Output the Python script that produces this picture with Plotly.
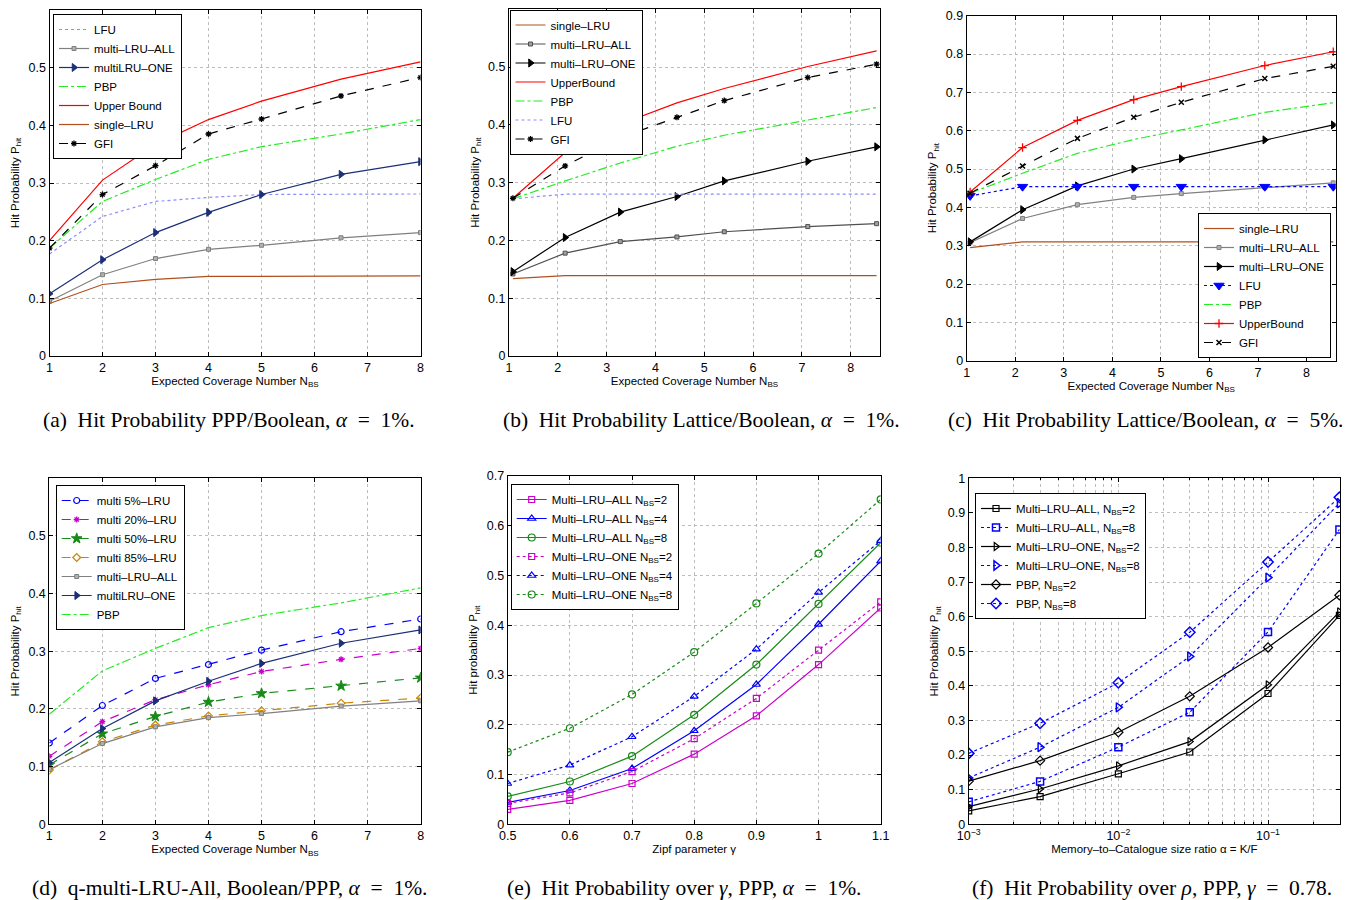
import plotly.graph_objects as go

W, H = 1353, 900

# ---------------- data ----------------
# (a) PPP/Boolean alpha=1%
xa = [1, 2, 3, 4, 5, 6.5, 8]
a_lfu = [0.177, 0.242, 0.268, 0.275, 0.280, 0.280, 0.281]
a_all = [0.095, 0.141, 0.169, 0.185, 0.192, 0.205, 0.214]
a_one = [0.108, 0.167, 0.214, 0.249, 0.280, 0.315, 0.337]
a_pbp = [0.187, 0.268, 0.306, 0.341, 0.363, 0.385, 0.410]
a_ub = [0.200, 0.305, 0.367, 0.410, 0.442, 0.480, 0.510]
a_single = [0.091, 0.124, 0.133, 0.138, 0.138, 0.139, 0.139]
a_gfi = [0.187, 0.280, 0.330, 0.385, 0.411, 0.451, 0.483]

# (b) Lattice/Boolean alpha=1%
xb = [1.08, 2.15, 3.28, 4.44, 5.41, 7.12, 8.53]
b_single = [0.134, 0.139, 0.139, 0.139, 0.139, 0.139, 0.139]
b_all = [0.142, 0.178, 0.198, 0.206, 0.215, 0.224, 0.229]
b_one = [0.146, 0.205, 0.249, 0.276, 0.303, 0.337, 0.362]
b_ub = [0.273, 0.352, 0.401, 0.438, 0.463, 0.501, 0.528]
b_pbp = [0.272, 0.303, 0.334, 0.363, 0.382, 0.409, 0.430]
b_lfu = [0.272, 0.280, 0.280, 0.280, 0.280, 0.280, 0.280]
b_gfi = [0.273, 0.329, 0.378, 0.413, 0.442, 0.482, 0.505]

# (c) Lattice/Boolean alpha=5%
xc = [1.07, 2.15, 3.28, 4.44, 5.42, 7.14, 8.55]
c_single = [0.295, 0.310, 0.310, 0.310, 0.310, 0.310, 0.310]
c_all = [0.308, 0.371, 0.407, 0.426, 0.436, 0.452, 0.464]
c_one = [0.310, 0.394, 0.456, 0.500, 0.527, 0.576, 0.615]
c_lfu = [0.430, 0.454, 0.454, 0.454, 0.454, 0.454, 0.454]
c_pbp = [0.437, 0.489, 0.541, 0.577, 0.602, 0.648, 0.673]
c_ub = [0.440, 0.556, 0.627, 0.681, 0.715, 0.770, 0.806]
c_gfi = [0.437, 0.508, 0.580, 0.635, 0.674, 0.736, 0.768]

# (d) q-multi-LRU-All
xd_ = [1, 2, 3, 4, 5, 6.5, 8]
d_q5 = [0.141, 0.206, 0.253, 0.277, 0.302, 0.334, 0.356]
d_q20 = [0.118, 0.178, 0.216, 0.242, 0.265, 0.286, 0.305]
d_q50 = [0.103, 0.157, 0.187, 0.212, 0.227, 0.240, 0.254]
d_q85 = [0.094, 0.143, 0.172, 0.188, 0.197, 0.210, 0.219]
d_all = [0.095, 0.140, 0.169, 0.185, 0.192, 0.205, 0.214]
d_one = [0.107, 0.166, 0.214, 0.248, 0.279, 0.314, 0.337]
d_pbp = [0.191, 0.266, 0.305, 0.341, 0.362, 0.384, 0.410]

# (e) over gamma
xe = [0.5, 0.6, 0.7, 0.8, 0.9, 1.0, 1.1]
e_all2 = [0.030, 0.048, 0.082, 0.141, 0.218, 0.321, 0.435]
e_all4 = [0.044, 0.068, 0.112, 0.188, 0.281, 0.402, 0.529]
e_all8 = [0.056, 0.086, 0.137, 0.220, 0.321, 0.443, 0.566]
e_one2 = [0.042, 0.063, 0.106, 0.172, 0.253, 0.350, 0.447]
e_one4 = [0.082, 0.119, 0.176, 0.257, 0.352, 0.466, 0.570]
e_one8 = [0.145, 0.193, 0.261, 0.346, 0.444, 0.544, 0.653]

# (f) over memory ratio
xf = [0.001, 0.003, 0.01, 0.03, 0.1, 0.3]
f_all2 = [0.039, 0.080, 0.146, 0.209, 0.378, 0.604]
f_all8 = [0.065, 0.124, 0.223, 0.324, 0.556, 0.852]
f_one2 = [0.051, 0.102, 0.169, 0.239, 0.403, 0.614]
f_one8 = [0.134, 0.223, 0.338, 0.485, 0.713, 0.928]
f_pbp2 = [0.125, 0.184, 0.266, 0.370, 0.511, 0.662]
f_pbp8 = [0.205, 0.292, 0.409, 0.555, 0.758, 0.945]

SP = "\u2002"
captions = [
    "(a)" + SP + "Hit Probability PPP/Boolean, <i>α</i>" + SP + "=" + SP + "1%.",
    "(b)" + SP + "Hit Probability Lattice/Boolean, <i>α</i>" + SP + "=" + SP + "1%.",
    "(c)" + SP + "Hit Probability Lattice/Boolean, <i>α</i>" + SP + "=" + SP + "5%.",
    "(d)" + SP + "q-multi-LRU-All, Boolean/PPP, <i>α</i>" + SP + "=" + SP + "1%.",
    "(e)" + SP + "Hit Probability over <i>γ</i>, PPP, <i>α</i>" + SP + "=" + SP + "1%.",
    "(f)" + SP + "Hit Probability over <i>ρ</i>, PPP, <i>γ</i>" + SP + "=" + SP + "0.78.",
]

# ---------------- styles ----------------
RED = "#ff0000"
BROWN = "#b0501e"
GRAY = "#808080"
DGRAY = "#505050"
NAVY = "#1c2f78"
LGREEN = "#22ee22"
LBLUE = "#8c8cff"
BLUE = "#0000ff"
MAG = "#cc00cc"
DGREEN = "#178a17"
ORANGE = "#cc8400"

FONT = "Liberation Sans, Arial, sans-serif"
SERIF = "Liberation Serif, Times New Roman, serif"

fig = go.Figure()


def px_x(a, b):
    return [a / W, b / W]


def px_y(top, bottom):
    return [1 - bottom / H, 1 - top / H]


def add(x, y, name, axis, legend, color, dash="solid", symbol=None, msize=5,
        mfill=None, mline=1, width=1.2):
    mode = "lines+markers" if symbol else "lines"
    marker = {}
    if symbol:
        marker = dict(symbol=symbol, size=msize, color=mfill if mfill else color,
                      line=dict(color=color, width=mline))
    fig.add_trace(go.Scatter(
        x=x, y=y, name=name, mode=mode,
        xaxis="x" + axis, yaxis="y" + axis, legend=legend,
        line=dict(color=color, dash=dash, width=width),
        marker=marker,
    ))


# (a)
add(xa, a_lfu, "LFU", "", "legend", LBLUE, "dot")
add(xa, a_all, "multi–LRU–ALL", "", "legend", GRAY, "solid", "square", 4, "#b0b0b0")
add(xa, a_one, "multiLRU–ONE", "", "legend", NAVY, "solid", "triangle-right", 7)
add(xa, a_pbp, "PBP", "", "legend", LGREEN, "dashdot")
add(xa, a_ub, "Upper Bound", "", "legend", RED)
add(xa, a_single, "single–LRU", "", "legend", BROWN)
add(xa, a_gfi, "GFI", "", "legend", "black", "dash", "asterisk-open", 5, None, 1.3)

# (b)
add(xb, b_single, "single–LRU", "2", "legend2", BROWN)
add(xb, b_all, "multi–LRU–ALL", "2", "legend2", DGRAY, "solid", "square", 4, "#a0a0a0")
add(xb, b_one, "multi–LRU–ONE", "2", "legend2", "black", "solid", "triangle-right", 7)
add(xb, b_ub, "UpperBound", "2", "legend2", RED)
add(xb, b_pbp, "PBP", "2", "legend2", LGREEN, "dashdot")
add(xb, b_lfu, "LFU", "2", "legend2", LBLUE, "dot")
add(xb, b_gfi, "GFI", "2", "legend2", "black", "dash", "asterisk-open", 5, None, 1.3)

# (c)
add(xc, c_single, "single–LRU", "3", "legend3", BROWN)
add(xc, c_all, "multi–LRU–ALL", "3", "legend3", GRAY, "solid", "square", 4, "#b0b0b0")
add(xc, c_one, "multi–LRU–ONE", "3", "legend3", "black", "solid", "triangle-right", 7)
add(xc, c_lfu, "LFU", "3", "legend3", BLUE, "dot", "triangle-down", 9)
add(xc, c_pbp, "PBP", "3", "legend3", LGREEN, "dashdot")
add(xc, c_ub, "UpperBound", "3", "legend3", RED, "solid", "cross-thin-open", 6, None, 1.3)
add(xc, c_gfi, "GFI", "3", "legend3", "black", "dash", "x-thin-open", 5, None, 1.5)

# (d)
add(xd_, d_q5, "multi 5%–LRU", "4", "legend4", BLUE, "dash", "circle-open", 6, None, 1.2)
add(xd_, d_q20, "multi 20%–LRU", "4", "legend4", MAG, "dash", "asterisk-open", 5, None, 1.3)
add(xd_, d_q50, "multi 50%–LRU", "4", "legend4", DGREEN, "dash", "star", 8)
add(xd_, d_q85, "multi 85%–LRU", "4", "legend4", ORANGE, "dash", "diamond-open", 6, None, 1.2)
add(xd_, d_all, "multi–LRU–ALL", "4", "legend4", GRAY, "solid", "square", 4, "#b0b0b0")
add(xd_, d_one, "multiLRU–ONE", "4", "legend4", NAVY, "solid", "triangle-right", 7)
add(xd_, d_pbp, "PBP", "4", "legend4", LGREEN, "dashdot")

# (e)
add(xe, e_all2, "Multi–LRU–ALL N<sub>BS</sub>=2", "5", "legend5", MAG, "solid", "square-open", 6, None, 1.2)
add(xe, e_all4, "Multi–LRU–ALL N<sub>BS</sub>=4", "5", "legend5", BLUE, "solid", "triangle-up-open", 7, None, 1.2)
add(xe, e_all8, "Multi–LRU–ALL N<sub>BS</sub>=8", "5", "legend5", DGREEN, "solid", "circle-open", 7, None, 1.2)
add(xe, e_one2, "Multi–LRU–ONE N<sub>BS</sub>=2", "5", "legend5", MAG, "dot", "square-open", 6, None, 1.2)
add(xe, e_one4, "Multi–LRU–ONE N<sub>BS</sub>=4", "5", "legend5", BLUE, "dot", "triangle-up-open", 7, None, 1.2)
add(xe, e_one8, "Multi–LRU–ONE N<sub>BS</sub>=8", "5", "legend5", DGREEN, "dot", "circle-open", 7, None, 1.2)

# (f)
add(xf, f_all2, "Multi–LRU–ALL, N<sub>BS</sub>=2", "6", "legend6", "black", "solid", "square-open", 6, None, 1.2)
add(xf, f_all8, "Multi–LRU–ALL, N<sub>BS</sub>=8", "6", "legend6", BLUE, "dot", "square-open", 7, None, 1.5)
add(xf, f_one2, "Multi–LRU–ONE, N<sub>BS</sub>=2", "6", "legend6", "black", "solid", "triangle-right-open", 7, None, 1.2)
add(xf, f_one8, "Multi–LRU–ONE, N<sub>BS</sub>=8", "6", "legend6", BLUE, "dot", "triangle-right-open", 8, None, 1.5)
add(xf, f_pbp2, "PBP, N<sub>BS</sub>=2", "6", "legend6", "black", "solid", "diamond-open", 7, None, 1.2)
add(xf, f_pbp8, "PBP, N<sub>BS</sub>=8", "6", "legend6", BLUE, "dot", "diamond-open", 8, None, 1.5)

# ---------------- axes ----------------
TICKF = dict(family=FONT, size=12.5, color="black")
TITLEF = dict(family=FONT, size=11.5, color="black")


def axis_common():
    return dict(showline=True, linecolor="black", linewidth=1, mirror="ticks",
                ticks="inside", ticklen=4, tickcolor="black", automargin=False,
                showgrid=True, gridcolor="#bdbdbd", griddash="dot", gridwidth=1,
                zeroline=False, tickfont=TICKF)


panels = [
    ("", (49.5, 420.5), (10, 356), [1, 8], [1, 2, 3, 4, 5, 6, 7, 8], [0, 0.6],
     [0, 0.1, 0.2, 0.3, 0.4, 0.5], "Expected Coverage Number N<sub>BS</sub>", "Hit Probability P<sub>hit</sub>"),
    ("2", (509, 880), (9.3, 356), [1, 8.6], [1, 2, 3, 4, 5, 6, 7, 8], [0, 0.6],
     [0, 0.1, 0.2, 0.3, 0.4, 0.5], "Expected Coverage Number N<sub>BS</sub>", "Hit Probability P<sub>hit</sub>"),
    ("3", (966.7, 1335.7), (15.7, 360.7), [1, 8.6], [1, 2, 3, 4, 5, 6, 7, 8], [0, 0.9],
     [0, 0.1, 0.2, 0.3, 0.4, 0.5, 0.6, 0.7, 0.8, 0.9], "Expected Coverage Number N<sub>BS</sub>", "Hit Probability P<sub>hit</sub>"),
    ("4", (49.3, 420.7), (478.3, 824.3), [1, 8], [1, 2, 3, 4, 5, 6, 7, 8], [0, 0.6],
     [0, 0.1, 0.2, 0.3, 0.4, 0.5], "Expected Coverage Number N<sub>BS</sub>", "Hit Probability P<sub>hit</sub>"),
    ("5", (507.7, 880.7), (476, 824.3), [0.5, 1.1], [0.5, 0.6, 0.7, 0.8, 0.9, 1.0, 1.1], [0, 0.7],
     [0, 0.1, 0.2, 0.3, 0.4, 0.5, 0.6, 0.7], "Zipf parameter γ", "Hit probability P<sub>hit</sub>"),
]

layout = dict(width=W, height=H, margin=dict(l=0, r=0, t=0, b=0, autoexpand=False),
              paper_bgcolor="white", plot_bgcolor="white",
              font=dict(family=FONT, size=11.5, color="black"))

for key, xdp, ydp, xr, xt, yr, yt, xtitle, ytitle in panels:
    xa_ = axis_common()
    xa_.update(domain=px_x(*xdp), range=xr, tickmode="array", tickvals=xt,
               ticktext=[("%g" % v) for v in xt], anchor="y" + key,
               title=dict(text=xtitle, font=TITLEF, standoff=0))
    ya_ = axis_common()
    ya_.update(domain=px_y(*ydp), range=yr, tickmode="array", tickvals=yt,
               ticktext=[("%g" % v) for v in yt], anchor="x" + key,
               title=dict(text=ytitle, font=TITLEF, standoff=6))
    layout["xaxis" + key] = xa_
    layout["yaxis" + key] = ya_

# (f) log axis
minor_vals = [m * 10 ** e for e in (-3, -2, -1) for m in range(2, 10) if m * 10 ** e < 0.31]
xf_ax = axis_common()
xf_ax.update(domain=px_x(968.7, 1340), type="log", range=[-3, -0.519],
             tickmode="array", tickvals=[0.001, 0.01, 0.1],
             ticktext=["10<sup>−3</sup>", "10<sup>−2</sup>", "10<sup>−1</sup>"],
             minor=dict(tickmode="array", tickvals=minor_vals, ticks="inside", ticklen=2,
                        tickcolor="black", showgrid=True, gridcolor="#bdbdbd", griddash="dot"),
             anchor="y6",
             title=dict(text="Memory–to–Catalogue size ratio α = K/F", font=TITLEF, standoff=2))
yf_ax = axis_common()
yf_ax.update(domain=px_y(478.3, 824.3), range=[0, 1], tickmode="array",
             tickvals=[0, 0.1, 0.2, 0.3, 0.4, 0.5, 0.6, 0.7, 0.8, 0.9, 1.0],
             ticktext=["0", "0.1", "0.2", "0.3", "0.4", "0.5", "0.6", "0.7", "0.8", "0.9", "1"],
             anchor="x6", title=dict(text="Hit Probability P<sub>hit</sub>", font=TITLEF, standoff=6))
layout["xaxis6"] = xf_ax
layout["yaxis6"] = yf_ax

# legends: (key, x px, y px, xanchor, yanchor)
legpos = {
    "legend": (53, 14, "left", "top"),
    "legend2": (509.5, 9.5, "left", "top"),
    "legend3": (1331, 358, "right", "bottom"),
    "legend4": (55.7, 485, "left", "top"),
    "legend5": (510.7, 484, "left", "top"),
    "legend6": (975, 493, "left", "top"),
}
for lk, (lx, ly, xan, yan) in legpos.items():
    layout[lk] = dict(x=lx / W, y=1 - ly / H, xanchor=xan, yanchor=yan,
                      bgcolor="white", bordercolor="black", borderwidth=1,
                      font=dict(family=FONT, size=11.5, color="black"),
                      itemwidth=30, tracegroupgap=0)

fig.update_layout(**layout)

# captions
cap_pos = [(229, 420), (702, 420), (1145, 420), (230, 888), (684, 888), (1152, 888)]
for txt, (cx, cy) in zip(captions, cap_pos):
    fig.add_annotation(text=txt, x=cx / W, y=1 - cy / H, xref="paper", yref="paper",
                       xanchor="center", yanchor="middle", showarrow=False,
                       font=dict(family=SERIF, size=21.5, color="black"))

fig.write_html("out.html", config={"displayModeBar": False},
               post_script="document.body.style.margin='0px';")
